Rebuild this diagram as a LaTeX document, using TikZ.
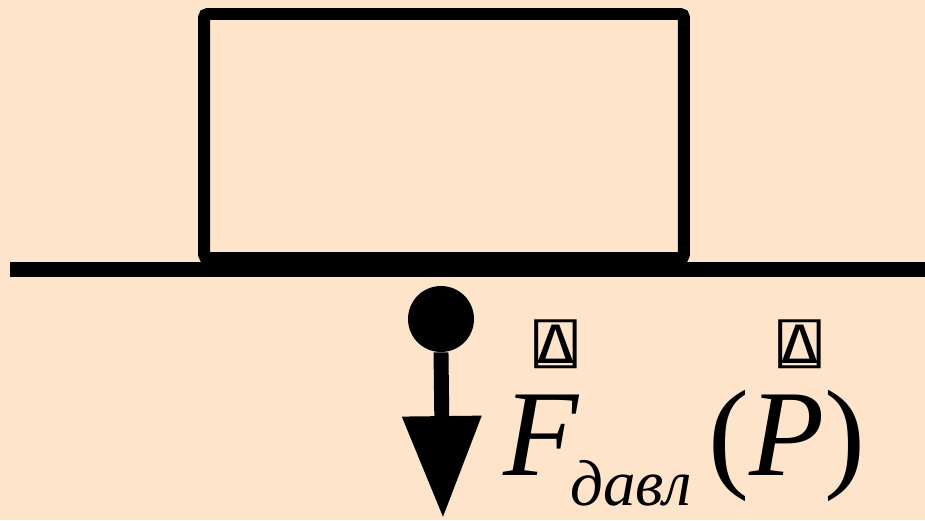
\documentclass[tikz,border=0pt]{standalone}
\usepackage{fontspec}
\setmainfont{Liberation Serif}
\newfontfamily\aplfont{DejaVu Sans Mono}
\usetikzlibrary{arrows.meta}
\definecolor{peach}{RGB}{253,228,203}

\begin{document}
\begin{tikzpicture}[x=0.02cm,y=-0.02cm,
        body/.style={draw,line width=6.8pt,rounded corners=2pt,
          minimum width=9.6cm,minimum height=4.88cm,inner sep=0pt},
        ground/.style={line width=8.5pt,line cap=butt},
        pin/.style={circle,fill,minimum size=1.32cm,inner sep=0pt},
        force/.style={line width=8.5pt,-{Triangle[length=58pt,width=43pt]}},
        big/.style={anchor=base west,inner sep=0pt,font=\fontsize{70}{80}\selectfont},
        small/.style={anchor=base west,inner sep=0pt,font=\fontsize{37}{44}\selectfont\itshape},
        vecmark/.style={anchor=south,inner sep=0pt,xscale=1.35,transform shape,
          font=\fontsize{30}{34}\selectfont\aplfont}]
        \fill[peach] (0,0) rectangle (925,520);
        \useasboundingbox (0,0) rectangle (925,520);
        % block on the floor
        \node[body] (box) at (444,136) {};
        \draw[ground] (10,269.5) -- (925,269.5);
        % force of pressure
        \node[pin] (dot) at (441,319) {};
        \coordinate (tip) at (443,518);
        \draw[force] (dot.south) -- (tip);
        \node[big] (f) at (503,475) {\itshape F};
        \node[small] (sub) at (570,505) {давл};
        \node[big] (p) at (708,475) {(\itshape P\upshape)};
        \node[vecmark] (vf) at (556,369) {⍍};
        \node[vecmark] (vp) at (800,369) {⍍};
      \end{tikzpicture}
\end{document}
